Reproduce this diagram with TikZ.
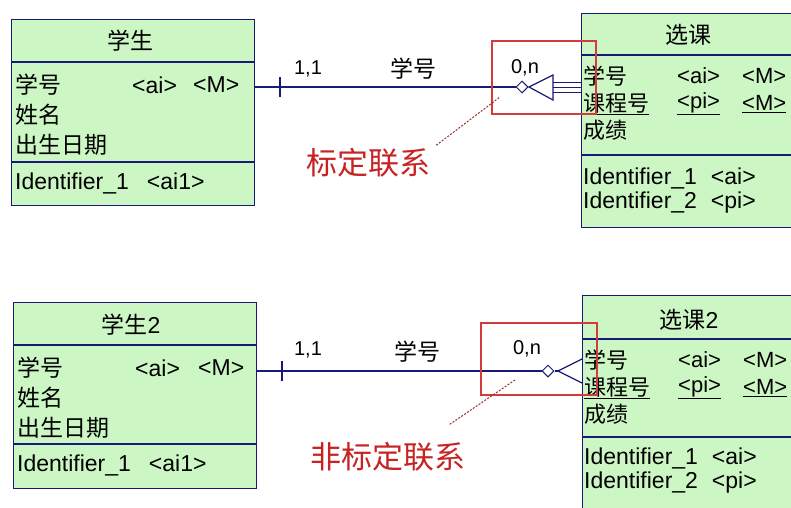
\documentclass[tikz,border=0pt]{standalone}
\usepackage{fontspec}
\setmainfont{Liberation Sans}
\newfontfamily\cjk{Noto Sans CJK SC}
\usetikzlibrary{arrows.meta,positioning,shapes.geometric}
\definecolor{navy}{RGB}{25,25,120}
\definecolor{entgreen}{RGB}{204,247,196}
\definecolor{markred}{RGB}{210,60,60}
\definecolor{lblred}{RGB}{200,35,35}

\begin{document}
\begin{tikzpicture}[x=1pt, y=-1pt,
  ent/.style={draw=navy, fill=entgreen, line width=1.3pt, anchor=north west, inner sep=0pt},
  sep/.style={draw=navy, line width=1.3pt},
  txt/.style={anchor=west, inner sep=0pt, font=\fontsize{23}{26}\selectfont},
  rtxt/.style={anchor=west, inner sep=0pt, font=\fontsize{22}{24}\selectfont},
  ttl/.style={inner sep=0pt, font=\fontsize{23}{26}\selectfont},
  card/.style={inner sep=0pt, font=\fontsize{20}{23}\selectfont},
  rel/.style={draw=navy, line width=1.2pt},
  dia/.style={diamond, draw=navy, fill=white, line width=1pt, minimum size=12pt, inner sep=0pt},
  markbox/.style={draw=markred, line width=1.2pt, inner sep=0pt},
  lbl/.style={inner sep=0pt, text=lblred, font=\fontsize{31}{34}\selectfont\cjk},
  ptr/.style={draw=markred!75!black, line width=1pt, dash pattern=on 2pt off 1.5pt}]
\useasboundingbox (0,0) rectangle (791,507);
\clip (0,0) rectangle (791,507);
\fill[white] (0,0) rectangle (791,507);

% ---- identifying relationship ----
\node[ent, minimum width=243pt, minimum height=186pt] (stu) at (11,19) {};
\draw[sep] (stu.west |- 0,62) -- (stu.east |- 0,62);
\draw[sep] (stu.west |- 0,162) -- (stu.east |- 0,162);
\node[ttl] (stut) at (130,41) {\cjk 学生};
\node[txt] (stua) at (15,85) {\cjk 学号};
\node[txt] (stuai) at (132,85) {<ai>};
\node[txt] (stum) at (193,85) {<M>};
\node[txt] (stub) at (15,115) {\cjk 姓名};
\node[txt] (stuc) at (15,145) {\cjk 出生日期};
\node[txt] (stuk) at (15,183) {Identifier\_1\hspace{18pt}<ai1>};

\node[ent, minimum width=230pt, minimum height=214pt] (sel) at (581,13) {};
\draw[sep] (sel.west |- 0,55) -- (sel.east |- 0,55);
\draw[sep] (sel.west |- 0,155) -- (sel.east |- 0,155);
\node[ttl] (selt) at (688,35) {\cjk 选课};
\node[rtxt] (sela) at (583,76) {\cjk 学号};
\node[rtxt] (selai) at (677,76) {<ai>};
\node[rtxt] (selam) at (742,76) {<M>};
\node[rtxt] (selb) at (583,104) {\underline{\cjk 课程号}};
\node[rtxt] (selbp) at (677,104) {\underline{<pi>}};
\node[rtxt] (selbm) at (742,104) {\underline{<M>}};
\node[rtxt] (selc) at (583,130) {\cjk 成绩};
\node[txt] (selk) at (583,178) {Identifier\_1\hspace{14pt}<ai>};
\node[txt] (sell) at (583,203) {Identifier\_2\hspace{14pt}<pi>};

\node[dia] (o1) at (522,87) {};
\coordinate (t1) at (280,87);
\coordinate (f1) at (529,87);
\draw[rel] (stu.east |- o1) -- (o1.west);
\draw[rel] (t1) ++(0,-10) -- ++(0,20);
\draw[rel] (o1.east) -- (f1);
\draw[rel] (553,75) -- (f1) -- (553,100) -- cycle;
\foreach \dy in {-5,0,5}
  \draw[rel, line width=1pt] (553,{87+\dy}) -- (sel.west |- 0,{87+\dy});
\node[card] (c1a) at (308,69) {1,1};
\node[ttl] (r1) at (413,69) {\cjk 学号};
\node[card] (c1b) at (525,68) {0,n};

\node[markbox, minimum width=104pt, minimum height=73pt] (hl1) at (544,77.5) {};
\node[lbl] (lb1) at (368,163) {标定联系};
\coordinate (p1) at (500,97);
\draw[ptr] ([xshift=6pt,yshift=3pt]lb1.north east) -- (p1);

% ---- non-identifying relationship ----
\node[ent, minimum width=243pt, minimum height=186pt] (stu2) at (13,302) {};
\draw[sep] (stu2.west |- 0,345) -- (stu2.east |- 0,345);
\draw[sep] (stu2.west |- 0,444) -- (stu2.east |- 0,444);
\node[ttl] (stu2t) at (131,325) {{\cjk 学生}2};
\node[txt] (stu2a) at (17,368) {\cjk 学号};
\node[txt] (stu2ai) at (135,368) {<ai>};
\node[txt] (stu2m) at (198,368) {<M>};
\node[txt] (stu2b) at (17,398) {\cjk 姓名};
\node[txt] (stu2c) at (17,428) {\cjk 出生日期};
\node[txt] (stu2k) at (17,465) {Identifier\_1\hspace{18pt}<ai1>};

\node[ent, minimum width=230pt, minimum height=240pt] (sel2) at (582,295) {};
\draw[sep] (sel2.west |- 0,339) -- (sel2.east |- 0,339);
\draw[sep] (sel2.west |- 0,437) -- (sel2.east |- 0,437);
\node[ttl] (sel2t) at (689,320) {{\cjk 选课}2};
\node[rtxt] (sel2a) at (584,360) {\cjk 学号};
\node[rtxt] (sel2ai) at (678,360) {<ai>};
\node[rtxt] (sel2am) at (743,360) {<M>};
\node[rtxt] (sel2b) at (584,388) {\underline{\cjk 课程号}};
\node[rtxt] (sel2bp) at (678,388) {\underline{<pi>}};
\node[rtxt] (sel2bm) at (743,388) {\underline{<M>}};
\node[rtxt] (sel2c) at (584,414) {\cjk 成绩};
\node[txt] (sel2k) at (584,458) {Identifier\_1\hspace{14pt}<ai>};
\node[txt] (sel2l) at (584,483) {Identifier\_2\hspace{14pt}<pi>};

\node[dia] (o2) at (548,371) {};
\coordinate (t2) at (282,371);
\coordinate (f2) at (558,371);
\draw[rel] (stu2.east |- o2) -- (o2.west);
\draw[rel] (t2) ++(0,-10) -- ++(0,20);
\draw[rel] (o2.east) -- (f2);
\draw[rel] (sel2.west |- 0,359) -- (f2) -- (sel2.west |- 0,383);
\node[card] (c2a) at (308,350) {1,1};
\node[ttl] (r2) at (417,352) {\cjk 学号};
\node[card] (c2b) at (527,349) {0,n};

\node[markbox, minimum width=116pt, minimum height=72pt] (hl2) at (539,359) {};
\node[lbl] (lb2) at (388,457) {非标定联系};
\coordinate (p2) at (515,380);
\draw[ptr] ([xshift=-16pt,yshift=18pt]lb2.north east) -- (p2);
\end{tikzpicture}
\end{document}
